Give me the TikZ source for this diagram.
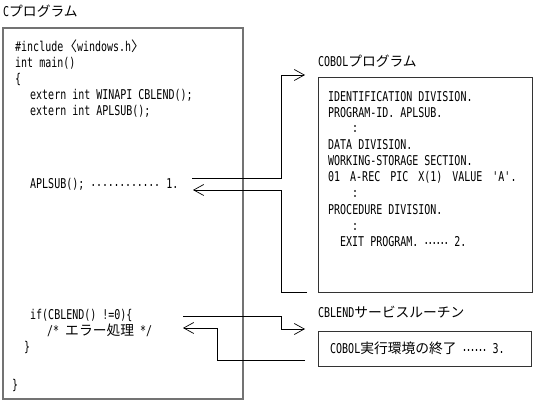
\documentclass[tikz,border=0pt]{standalone}
\usepackage{fontspec}
\usetikzlibrary{arrows.meta}
\newfontfamily\cf[FakeStretch=0.74]{DejaVu Sans Mono}
\newfontfamily\jf[Scale=1.02]{Noto Sans CJK JP}
\newcommand\J[1]{{\jf #1}}
\newcommand\dotrun[2]{\hbox to #1{\cleaders\hbox to #2{\hss\raisebox{2.5pt}{.}\hss}\hfill}}
\newcommand\wsp{\hspace{10pt}}
\tikzset{
  code/.style={anchor=west, inner sep=0pt, font=\cf\fontsize{13.5}{16}\selectfont, text height=10pt, text depth=0pt},
  cbox/.style={draw=black!55, line width=1.3pt},
  obox/.style={draw=black!80, line width=0.9pt},
  conn/.style={draw=black, line width=0.8pt},
  arr/.style={conn, -{Straight Barb[length=10pt,width=11pt,line width=0.7pt]}},
}
\begin{document}
\begin{tikzpicture}[x=1pt,y=-1pt]
\useasboundingbox (0,0) rectangle (536,403);
% boxes
\node[code] (lc) at (3,12) {C\J{プログラム}};
\draw[cbox] (3,28) rectangle (243,399);
\node[code] (lk) at (318,62) {COBOL\J{プログラム}};
\draw[obox] (318,77) rectangle (532,292);
\node[code] (ls) at (318,313) {CBLEND\J{サービスルーチン}};
\draw[obox] (318,331) rectangle (531,366);
% C program
\node[code] (c1) at (15,47) {\#include\J{〈}windows.h\J{〉}};
\node[code] (c2) at (15,63) {int main()};
\node[code] (c3) at (15,79) {\{};
\node[code] (c4) at (30,95) {extern int WINAPI CBLEND();};
\node[code] (c5) at (30,111) {extern int APLSUB();};
\node[code] (c6) at (30,184) {APLSUB(); \dotrun{70pt}{5.8pt} 1.};
\node[code] (c7) at (30,315) {if(CBLEND() !=0)\{};
\node[code] (c8) at (47,331) {/* \J{エラー処理} */};
\node[code] (c9) at (24,347) {\}};
\node[code] (c10) at (12,385) {\}};
% COBOL program
\node[code] (k1) at (328,97) {IDENTIFICATION DIVISION.};
\node[code] (k2) at (328,113) {PROGRAM-ID. APLSUB.};
\node[code] (k3) at (352,128) {:};
\node[code] (k4) at (328,145) {DATA DIVISION.};
\node[code] (k5) at (328,161) {WORKING-STORAGE SECTION.};
\node[code] (k6) at (328,177) {01\wsp A-REC\wsp PIC\wsp X(1)\wsp VALUE\wsp 'A'.};
\node[code] (k7) at (352,193) {:};
\node[code] (k8) at (328,210) {PROCEDURE DIVISION.};
\node[code] (k9) at (352,226) {:};
\node[code] (k10) at (340,242) {EXIT PROGRAM. \dotrun{24pt}{4pt} 2.};
% CBLEND
\node[code] (s1) at (330,349) {COBOL\J{実行環境の終了} \dotrun{24pt}{4pt} 3.};
% connectors
\coordinate (a0) at (192,178);
\coordinate (a1) at (305,75);
\draw[arr] (a0) -| (281,75) -- (a1);
\coordinate (b0) at (307,292);
\coordinate (b1) at (193,190);
\draw[arr] (b0) -| (281,190) -- (b1);
\coordinate (d0) at (183,316);
\coordinate (d1) at (305,329);
\draw[arr] (d0) -| (281,329) -- (d1);
\coordinate (e0) at (305,360);
\coordinate (e1) at (183,328);
\draw[arr] (e0) -| (217,328) -- (e1);
\end{tikzpicture}
\end{document}
